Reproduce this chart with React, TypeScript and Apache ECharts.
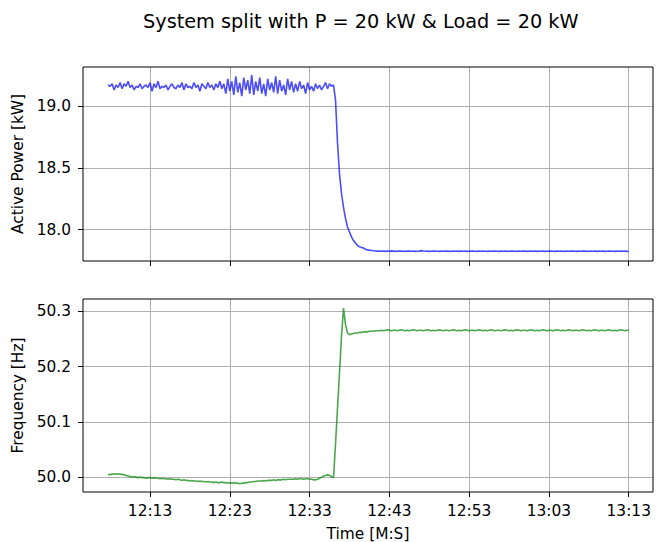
import React, { useEffect, useRef } from "react";
import * as echarts from "echarts";

// time axis: seconds after 12:03 (0 s = 12:03), sampled every 0.25 s
const TIME_ORIGIN_S = 12 * 60 + 3;
const SAMPLE_START = 4.75;
const SAMPLE_STEP = 0.25;

const X_TICKS = [10, 20, 30, 40, 50, 60, 70];
const X_TICK_LABELS = ["12:13", "12:23", "12:33", "12:43", "12:53", "13:03", "13:13"];
const POWER_TICKS = [18.0, 18.5, 19.0];
const FREQ_TICKS = [50.0, 50.1, 50.2, 50.3];

// Active power [kW]
const POWER_PRE = [
  19.17, 19.16, 19.18, 19.13, 19.17, 19.15, 19.19, 19.14, 19.18, 19.16, 19.20, 19.15, 19.17, 19.13, 19.16, 19.15, 19.18,
  19.14, 19.16, 19.17, 19.15, 19.19, 19.12, 19.18, 19.15, 19.20, 19.14, 19.16, 19.15, 19.17, 19.13, 19.16, 19.18, 19.15,
  19.14, 19.17, 19.15, 19.19, 19.13, 19.18, 19.15, 19.16, 19.14, 19.19, 19.15, 19.17, 19.12, 19.18, 19.16, 19.14, 19.19,
  19.15, 19.17, 19.13, 19.18, 19.15, 19.20, 19.14,
  19.18, 19.10, 19.22, 19.12, 19.20, 19.09, 19.24, 19.11, 19.19, 19.08, 19.23, 19.13, 19.21, 19.10, 19.25, 19.09, 19.20,
  19.12, 19.23, 19.10, 19.18, 19.08, 19.22, 19.13, 19.19, 19.11, 19.24, 19.10, 19.21, 19.12, 19.17, 19.09, 19.22, 19.13,
  19.20, 19.11,
  19.18, 19.12, 19.20, 19.14, 19.17, 19.10, 19.19, 19.13, 19.16, 19.12, 19.18, 19.14, 19.17, 19.13, 19.16, 19.19, 19.14,
  19.18, 19.16, 19.17,
];
const POWER_DROP = [
  19.05, 18.7, 18.45, 18.29, 18.18, 18.09, 18.02, 17.98, 17.94, 17.91, 17.89, 17.87, 17.86, 17.855, 17.85, 17.84, 17.835,
  17.833, 17.83, 17.828, 17.826, 17.825,
];
const POWER_POST = [
  17.825, 17.824, 17.826, 17.823, 17.825, 17.824, 17.827, 17.825, 17.823, 17.824, 17.826, 17.825, 17.824, 17.823, 17.825, 17.826, 17.824, 17.825, 17.823, 17.824, 17.825,
  17.829, 17.826, 17.824, 17.825, 17.823, 17.824, 17.826, 17.825, 17.824, 17.823, 17.825, 17.824, 17.826, 17.825, 17.823, 17.824, 17.825, 17.824, 17.826, 17.823, 17.825,
  17.824, 17.825, 17.823, 17.824, 17.826, 17.825, 17.824, 17.823, 17.825, 17.824, 17.826, 17.824, 17.823, 17.825, 17.824, 17.825, 17.826, 17.824, 17.823, 17.825, 17.824,
  17.825, 17.823, 17.824, 17.826, 17.825, 17.824, 17.823, 17.825, 17.824, 17.826, 17.825, 17.823, 17.824, 17.825, 17.824, 17.826, 17.823, 17.825, 17.824, 17.825, 17.823,
  17.824, 17.826, 17.825, 17.824, 17.823, 17.825, 17.824, 17.826, 17.824, 17.823, 17.825, 17.824, 17.825, 17.826, 17.824, 17.823, 17.825, 17.824, 17.826, 17.825, 17.823,
  17.824, 17.825, 17.824, 17.826, 17.823, 17.825, 17.824, 17.825, 17.823, 17.824, 17.826, 17.825, 17.824, 17.823, 17.825, 17.824, 17.826, 17.824, 17.825, 17.823, 17.824,
];

// Frequency [Hz]
const FREQ_PRE = [
  50.004, 50.005, 50.005, 50.006, 50.005, 50.006, 50.005, 50.005,
  50.004, 50.003, 50.002, 50.001, 50.0, 50.001,
  50.0, 49.999, 50.0, 49.999, 49.999, 49.998, 49.999, 49.999,
  49.998, 49.999, 49.998, 49.998, 49.997, 49.998, 49.997, 49.997, 49.996, 49.997, 49.996, 49.996,
  49.995, 49.996, 49.995, 49.994, 49.995, 49.994, 49.994, 49.993, 49.994, 49.993, 49.993, 49.992, 49.993, 49.992,
  49.992, 49.991, 49.992, 49.991, 49.991, 49.99, 49.991, 49.99, 49.99, 49.991, 49.99, 49.99, 49.989, 49.99,
  49.989, 49.99, 49.989, 49.989, 49.988, 49.989, 49.989, 49.99, 49.99, 49.991,
  49.991, 49.992, 49.992, 49.993, 49.993, 49.993, 49.994, 49.993, 49.994, 49.994,
  49.994, 49.995, 49.994, 49.995, 49.995, 49.995, 49.996, 49.995, 49.996, 49.996, 49.996, 49.996,
  49.997, 49.996, 49.997, 49.997, 49.996, 49.997, 49.997, 49.996, 49.996, 49.995,
  49.995, 49.996, 49.998, 50.0, 50.002, 50.003, 50.004, 50.003, 50.001, 49.999,
];
const FREQ_JUMP = [
  50.06, 50.125, 50.19, 50.255, 50.306, 50.276, 50.261, 50.258, 50.259, 50.26, 50.261, 50.261, 50.262, 50.262, 50.263,
  50.263, 50.263, 50.264, 50.264, 50.264, 50.265, 50.265,
];
const FREQ_POST = [
  50.265, 50.266, 50.265, 50.266, 50.267, 50.266, 50.265, 50.266, 50.266, 50.265, 50.266, 50.267, 50.266, 50.265, 50.266, 50.265, 50.266, 50.267, 50.266, 50.265, 50.266,
  50.266, 50.265, 50.266, 50.267, 50.266, 50.265, 50.266, 50.265, 50.266, 50.267, 50.266, 50.265, 50.266, 50.266, 50.265, 50.266, 50.267, 50.266, 50.265, 50.266, 50.265,
  50.266, 50.267, 50.266, 50.265, 50.266, 50.266, 50.265, 50.266, 50.267, 50.266, 50.265, 50.266, 50.265, 50.266, 50.267, 50.266, 50.265, 50.266, 50.266, 50.265, 50.266,
  50.267, 50.266, 50.265, 50.266, 50.265, 50.266, 50.267, 50.266, 50.265, 50.266, 50.266, 50.265, 50.266, 50.267, 50.266, 50.265, 50.266, 50.265, 50.266, 50.267, 50.266,
  50.265, 50.266, 50.266, 50.265, 50.266, 50.267, 50.266, 50.265, 50.266, 50.265, 50.266, 50.267, 50.266, 50.265, 50.266, 50.266, 50.265, 50.266, 50.267, 50.266, 50.265,
  50.266, 50.265, 50.266, 50.267, 50.266, 50.265, 50.266, 50.266, 50.265, 50.266, 50.267, 50.266, 50.265, 50.266, 50.265, 50.266, 50.267, 50.266, 50.265, 50.266, 50.266,
];

const FONT = "DejaVu Sans";

function pairs(values: number[]) {
  return values.map((v, i) => [SAMPLE_START + i * SAMPLE_STEP, v]);
}

export default function App() {
  const ref = useRef<HTMLDivElement>(null);
  useEffect(() => {
    if (!ref.current) return;
    const chart = echarts.init(ref.current, null, { renderer: "svg" });
    const power = pairs([...POWER_PRE, ...POWER_DROP, ...POWER_POST]);
    const freq = pairs([...FREQ_PRE, ...FREQ_JUMP, ...FREQ_POST]);
    const xLabel = (v: number) => {
      const idx = X_TICKS.indexOf(Math.round(v));
      if (idx >= 0 && Math.abs(v - X_TICKS[idx]) < 1e-6) return X_TICK_LABELS[idx];
      return "";
    };
    const tickStyle = { show: true, length: 5, lineStyle: { color: "#000", width: 1 } };
    const splitStyle = { show: true, lineStyle: { color: "#b0b0b0", width: 1 } };
    const labelText = { fontFamily: FONT, fontSize: 15.4, color: "#000" };
    const xBase = (gridIndex: number, showLabels: boolean) => ({
      type: "value",
      gridIndex,
      min: 1.6,
      max: 73.04,
      splitNumber: 7,
      axisLine: { show: false },
      axisTick: { ...tickStyle, customValues: X_TICKS },
      axisLabel: {
        show: showLabels,
        customValues: X_TICKS,
        formatter: xLabel,
        margin: 11,
        ...labelText,
      },
      splitLine: splitStyle,
      ...(showLabels
        ? {
            name: "Time [M:S]",
            nameLocation: "middle",
            nameGap: 34,
            nameTextStyle: { ...labelText },
          }
        : {}),
    });
    const yBase = (gridIndex: number, min: number, max: number, ticks: number[], name: string) => ({
      type: "value",
      gridIndex,
      min,
      max,
      splitNumber: 3,
      axisLine: { show: false },
      axisTick: { ...tickStyle, customValues: ticks },
      axisLabel: {
        customValues: ticks,
        formatter: (v: number) => v.toFixed(1),
        margin: 12,
        ...labelText,
      },
      splitLine: splitStyle,
      name,
      nameLocation: "middle",
      nameGap: 55,
      nameTextStyle: { ...labelText },
    });
    chart.setOption({
      animation: false,
      backgroundColor: "#fff",
      textStyle: { fontFamily: FONT },
      title: {
        text: "System split with P = 20 kW & Load = 20 kW",
        left: 143,
        top: 12,
        padding: 0,
        textStyle: { fontFamily: FONT, fontSize: 19.3, fontWeight: "normal", color: "#000" },
      },
      grid: [
        { z: 1, left: 83, right: 6, top: 67, height: 194, show: true, borderColor: "#000", borderWidth: 1, backgroundColor: "transparent" },
        { z: 1, left: 83, right: 6, top: 299, height: 193, show: true, borderColor: "#000", borderWidth: 1, backgroundColor: "transparent" },
      ],
      xAxis: [xBase(0, false), xBase(1, true)],
      yAxis: [
        yBase(0, 17.745, 19.316, POWER_TICKS, "Active Power [kW]"),
        yBase(1, 49.973, 50.3225, FREQ_TICKS, "Frequency [Hz]"),
      ],
      series: [
        {
          type: "line",
          xAxisIndex: 0,
          yAxisIndex: 0,
          data: power,
          showSymbol: false,
          symbol: "none",
          lineStyle: { color: "rgba(0,0,255,0.7)", width: 1.6 },
          z: 3,
        },
        {
          type: "line",
          xAxisIndex: 1,
          yAxisIndex: 1,
          data: freq,
          showSymbol: false,
          symbol: "none",
          lineStyle: { color: "rgba(0,128,0,0.7)", width: 1.6 },
          z: 3,
        },
      ],
    });
    return () => chart.dispose();
  }, []);
  return (
    <div
      ref={ref}
      style={{ position: "fixed", left: 0, top: 0, width: 659, height: 542, background: "#fff" }}
    />
  );
}
